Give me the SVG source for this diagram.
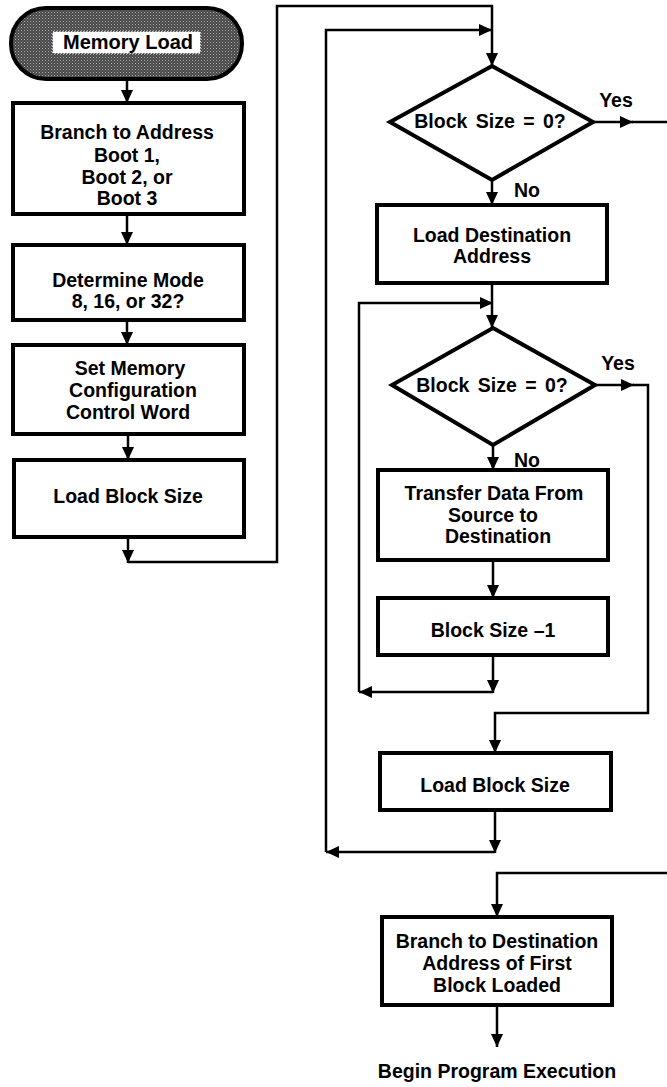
<svg xmlns="http://www.w3.org/2000/svg" width="667" height="1087" viewBox="0 0 667 1087">
<style>
  .box { fill: #ffffff; stroke: #000000; stroke-width: 4; }
  .dia { fill: #ffffff; stroke: #000000; stroke-width: 4; stroke-linejoin: miter; }
  .t { font-family: "Liberation Sans", Arial, Helvetica, sans-serif; font-weight: bold; font-size: 19.5px; fill: #000000; text-anchor: middle; }
  .c { fill: none; stroke: #000000; stroke-width: 2.5; }
  .ca { fill: none; stroke: #000000; stroke-width: 2.5; marker-end: url(#ah); }
</style>
<defs>
  <marker id="ah" markerUnits="userSpaceOnUse" markerWidth="13" markerHeight="12" refX="13" refY="6" orient="auto">
    <path d="M0,0 L13,6 L0,12 Z" fill="#000000"/>
  </marker>
  <pattern id="stipple" width="3" height="3" patternUnits="userSpaceOnUse">
    <rect width="3" height="3" fill="#474747"/>
    <rect x="0" y="0" width="1" height="1" fill="#b0b0b0"/>
    <rect x="1.5" y="1.5" width="1" height="1" fill="#8a8a8a"/>
  </pattern>
</defs>
<rect width="667" height="1087" fill="#ffffff"/>

<g id="connectors">
  <path class="ca" d="M127,80 V103"/>
  <path class="ca" d="M127,215 V245"/>
  <path class="ca" d="M127,320 V345"/>
  <path class="ca" d="M128,435 V460"/>
  <path class="ca" d="M128,538 V563"/>
  <path class="ca" d="M128,562 H277 V6 H492 V66"/>
  <path class="ca" d="M593,122 H633"/>
  <path class="c" d="M632,122 H667"/>
  <path class="ca" d="M492,180 V205"/>
  <path class="ca" d="M492,283 V328"/>
  <path class="ca" d="M595,385 H634"/>
  <path class="ca" d="M633,385 H648 V713 H495 V753"/>
  <path class="ca" d="M493,445 V470"/>
  <path class="ca" d="M493,560 V598"/>
  <path class="ca" d="M493,655 V693"/>
  <path class="ca" d="M493,692 H359"/>
  <path class="ca" d="M359,692 V303 H493"/>
  <path class="ca" d="M495,810 V853"/>
  <path class="ca" d="M495,852 H326"/>
  <path class="ca" d="M326,852 V30 H492"/>
  <path class="ca" d="M667,873 H497 V917"/>
  <path class="ca" d="M497,1005 V1047"/>
</g>

<g id="n_memory_load">
  <rect x="11" y="8" width="231" height="71" rx="35" ry="35" fill="url(#stipple)" stroke="#000000" stroke-width="4"/>
  <rect x="53" y="32" width="147" height="21" fill="#ffffff" stroke="#ffffff" stroke-width="1.5" stroke-dasharray="1.5 1.5"/>
  <text class="t" x="128" y="49" style="font-size:20px">Memory Load</text>
</g>

<g id="n_branch_boot">
  <rect class="box" x="13" y="103" width="231" height="111"/>
  <text class="t" x="127" y="139">Branch to Address</text>
  <text class="t" x="127" y="162">Boot 1,</text>
  <text class="t" x="127" y="184">Boot 2, or</text>
  <text class="t" x="127" y="205">Boot 3</text>
</g>

<g id="n_determine_mode">
  <rect class="box" x="13" y="245" width="231" height="75"/>
  <text class="t" x="128" y="287">Determine Mode</text>
  <text class="t" x="128" y="308">8, 16, or 32?</text>
</g>

<g id="n_set_memory">
  <rect class="box" x="13" y="345" width="231" height="89"/>
  <text class="t" x="130" y="375">Set Memory</text>
  <text class="t" x="133" y="397">Configuration</text>
  <text class="t" x="128" y="419">Control Word</text>
</g>

<g id="n_load_block_size_1">
  <rect class="box" x="14" y="460" width="230" height="77"/>
  <text class="t" x="128" y="503">Load Block Size</text>
</g>

<g id="n_block_size_zero_1">
  <polygon class="dia" points="492,66 593,122 492,180 390,122"/>
  <text class="t" x="490" y="128" style="word-spacing:3px">Block Size = 0?</text>
  <text class="t" x="616" y="107">Yes</text>
  <text class="t" x="527" y="197">No</text>
</g>

<g id="n_load_dest_addr">
  <rect class="box" x="377" y="205" width="230" height="78"/>
  <text class="t" x="492" y="242">Load Destination</text>
  <text class="t" x="492" y="263">Address</text>
</g>

<g id="n_block_size_zero_2">
  <polygon class="dia" points="493,328 595,385 493,445 392,385"/>
  <text class="t" x="492" y="392" style="word-spacing:3px">Block Size = 0?</text>
  <text class="t" x="618" y="370">Yes</text>
  <text class="t" x="527" y="467">No</text>
</g>

<g id="n_transfer">
  <rect class="box" x="378" y="470" width="230" height="90"/>
  <text class="t" x="494" y="500">Transfer Data From</text>
  <text class="t" x="493" y="522">Source to</text>
  <text class="t" x="498" y="543">Destination</text>
</g>

<g id="n_block_size_minus">
  <rect class="box" x="378" y="598" width="230" height="57"/>
  <text class="t" x="493" y="637">Block Size –1</text>
</g>

<g id="n_load_block_size_2">
  <rect class="box" x="380" y="753" width="231" height="57"/>
  <text class="t" x="495" y="792">Load Block Size</text>
</g>

<g id="n_branch_dest">
  <rect class="box" x="382" y="917" width="230" height="88"/>
  <text class="t" x="497" y="948">Branch to Destination</text>
  <text class="t" x="497" y="970">Address of First</text>
  <text class="t" x="497" y="992">Block Loaded</text>
</g>

<g id="n_begin">
  <text class="t" x="497" y="1078">Begin Program Execution</text>
</g>
</svg>
